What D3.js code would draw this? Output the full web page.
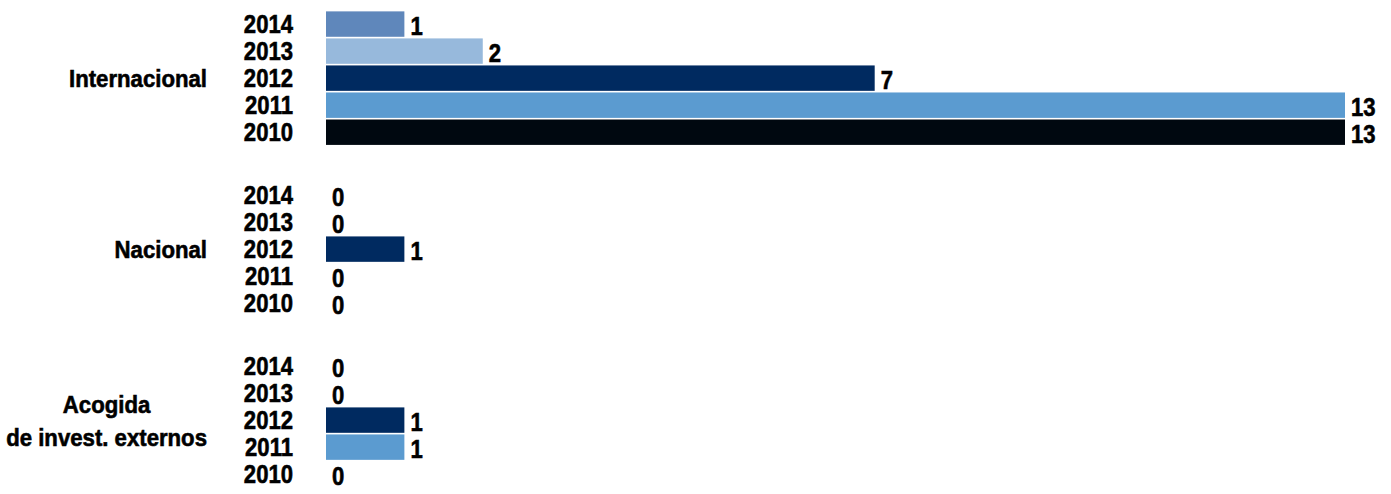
<!DOCTYPE html>
<html><head><meta charset="utf-8">
<script src="https://cdn.jsdelivr.net/npm/d3@7"></script>
<style>
html,body{margin:0;padding:0;background:#fff;}
text{font-family:"Liberation Sans",Arial,Helvetica,sans-serif;font-weight:bold;fill:#000;stroke:#000;stroke-width:0.6px;}
</style></head>
<body>
<svg id="chart" width="1391" height="494"></svg>
<script>
const groups = ["Internacional", "Nacional", "Acogida\nde invest. externos"];
const years = ["2014", "2013", "2012", "2011", "2010"];
const internacional = [1, 2, 7, 13, 13];
const nacional = [0, 0, 1, 0, 0];
const acogida = [0, 0, 1, 1, 0];
const yearColors = ["#5f87bb", "#97b9dc", "#002a60", "#5b9bd0", "#000810"];

const seriesByGroup = [internacional, nacional, acogida];
const svg = d3.select("#chart");
const SX = 0.85;      // horizontal condensing of the font
const GSX = 0.905;    // condensing for group labels
const FS = 26;        // font size

const x = d3.scaleLinear().domain([0, 13]).range([326, 1345]);
const gy = d3.scaleBand().domain(groups).range([9.75, 488.5]).paddingInner(0.2).paddingOuter(0);
const yy = d3.scaleBand().domain(years).range([0, gy.bandwidth()]).padding(0.06);
const color = d3.scaleOrdinal().domain(years).range(yearColors);

function addText(parent, tx, ty, str, anchor, fs, sx) {
  const g = parent.append("g").attr("transform", `translate(${tx},${ty}) scale(${sx || SX},1)`);
  const t = g.append("text").attr("text-anchor", anchor).style("font-size", (fs || FS) + "px").text(str);
  return t;
}

groups.forEach((g, gi) => {
  const grp = svg.append("g").attr("transform", `translate(0,${gy(g)})`);
  const vals = seriesByGroup[gi];
  const rows = years.map((yr, i) => ({ yr, v: vals[i] }));

  grp.selectAll("rect").data(rows.filter(d => d.v > 0)).join("rect")
    .attr("x", x(0)).attr("y", d => yy(d.yr))
    .attr("width", d => x(d.v) - x(0)).attr("height", yy.bandwidth())
    .attr("fill", d => color(d.yr));

  rows.forEach(d => {
    const c = yy(d.yr) + yy.bandwidth() / 2;
    addText(grp, 293, c + 8.5, d.yr, "end");
    addText(grp, x(d.v) + 6, c + 10.5, String(d.v), "start");
  });

  // group label
  const lines = g.split("\n");
  const cy = gy.bandwidth() / 2;
  const lh = 33;
  const right = 207;
  const gfs = 24.5;
  const texts = lines.map((ln, li) => addText(grp, 0, 0, ln, "end", gfs, GSX));
  const widths = texts.map(t => t.node().getComputedTextLength() * GSX);
  const maxW = d3.max(widths);
  texts.forEach((t, li) => {
    const yv = cy + (li - (lines.length - 1) / 2) * lh + 9;
    if (lines.length === 1) {
      d3.select(t.node().parentNode).attr("transform", `translate(${right},${yv}) scale(${GSX},1)`);
    } else {
      t.attr("text-anchor", "middle");
      d3.select(t.node().parentNode).attr("transform", `translate(${right - maxW / 2},${yv}) scale(${GSX},1)`);
    }
  });
});
</script>
</body></html>
